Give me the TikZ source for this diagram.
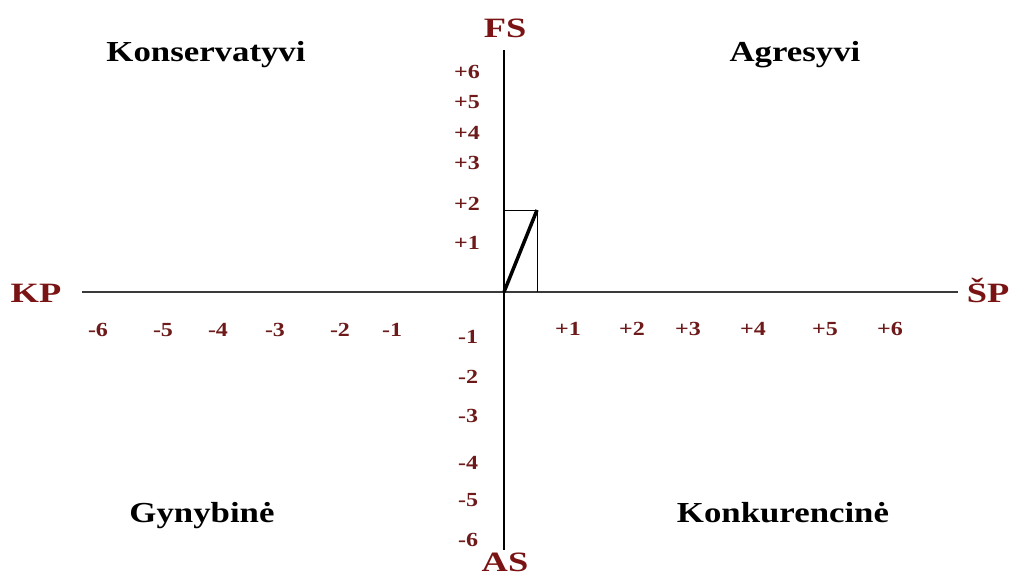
\documentclass[tikz,border=0pt]{standalone}
\usepackage{fontspec}
\setmainfont{Liberation Serif}
\definecolor{axred}{HTML}{7A1414}
\definecolor{tickred}{HTML}{6E1A1A}
\definecolor{axgray}{HTML}{3A3A3A}
\begin{document}
\begin{tikzpicture}[x=1pt,y=-1pt,
  axlabel/.style={text=axred,font=\bfseries\fontsize{28}{30}\selectfont,inner sep=0pt,xscale=1.3},
  quadlabel/.style={text=black,font=\bfseries\fontsize{29}{32}\selectfont,inner sep=0pt,xscale=1.2,anchor=base},
  ticklabel/.style={text=tickred,font=\bfseries\fontsize{20}{22}\selectfont,inner sep=0pt,xscale=1.2},
  thinline/.style={draw=black,line width=0.9pt},
  thickline/.style={draw=black,line width=3.5pt}]
\useasboundingbox (0,0) rectangle (1012,577);
% axis end points
\coordinate (xl) at (82,292);
\coordinate (xr) at (958,292);
\coordinate (yt) at (504,50);
\coordinate (yb) at (504,550);
\coordinate (o) at (504,292);
\coordinate (p) at (537,210);
\coordinate (px) at (537,292);
\coordinate (py) at (504,210);
% axes
\draw[draw=axgray,line width=1.3pt] (xl) -- (xr);
\draw[draw=black,line width=2.8pt] (yt) -- (yb);
% small rectangle and vector
\draw[thinline] (py) -- (p) -- (px);
\draw[thickline] (o) -- (p);
% axis labels
\node[axlabel,anchor=base] (fs) at (505,38) {FS};
\node[axlabel,anchor=base] (as) at (505,571) {AS};
\node[axlabel,anchor=base] (kp) at (36,303) {KP};
\node[axlabel,anchor=base] (sp) at (988,302) {ŠP};
% quadrant labels
\node[quadlabel] (q1) at (206,62) {Konservatyvi};
\node[quadlabel] (q2) at (795,62) {Agresyvi};
\node[quadlabel] (q3) at (202,522) {Gynybinė};
\node[quadlabel] (q4) at (783,522) {Konkurencinė};
% vertical ticks
\node[ticklabel] (v6) at (467,72) {+6};
\node[ticklabel] (v5) at (467,102) {+5};
\node[ticklabel] (v4) at (467,133) {+4};
\node[ticklabel] (v3) at (467,163) {+3};
\node[ticklabel] (v2) at (467,204) {+2};
\node[ticklabel] (v1) at (467,243) {+1};
\node[ticklabel] (vm1) at (468,337) {-1};
\node[ticklabel] (vm2) at (468,377) {-2};
\node[ticklabel] (vm3) at (468,416) {-3};
\node[ticklabel] (vm4) at (468,463) {-4};
\node[ticklabel] (vm5) at (468,500) {-5};
\node[ticklabel] (vm6) at (468,540) {-6};
% horizontal ticks
\node[ticklabel] (hm6) at (98,330) {-6};
\node[ticklabel] (hm5) at (163,330) {-5};
\node[ticklabel] (hm4) at (218,330) {-4};
\node[ticklabel] (hm3) at (275,330) {-3};
\node[ticklabel] (hm2) at (340,330) {-2};
\node[ticklabel] (hm1) at (392,330) {-1};
\node[ticklabel] (h1) at (568,329) {+1};
\node[ticklabel] (h2) at (632,329) {+2};
\node[ticklabel] (h3) at (688,329) {+3};
\node[ticklabel] (h4) at (753,329) {+4};
\node[ticklabel] (h5) at (825,329) {+5};
\node[ticklabel] (h6) at (890,329) {+6};
\end{tikzpicture}
\end{document}
